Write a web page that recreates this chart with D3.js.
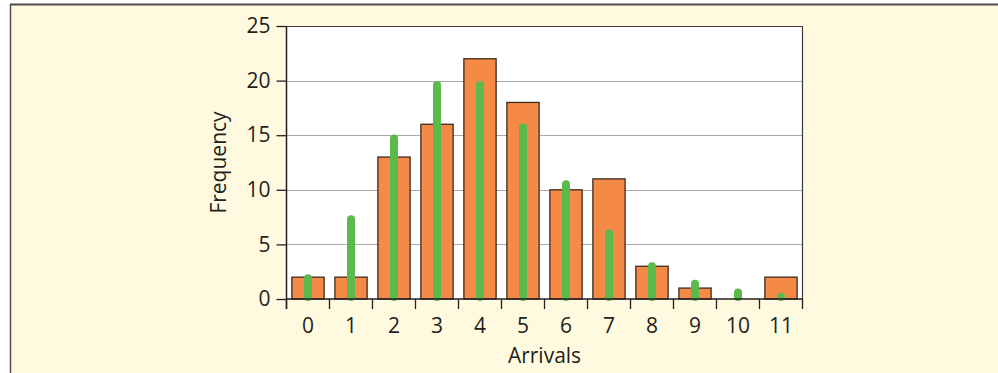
<!DOCTYPE html>
<html><head><meta charset="utf-8">
<script src="https://cdn.jsdelivr.net/npm/d3@7"></script>
<style>
html,body{margin:0;padding:0;background:#fff;}
svg{display:block;}
text{font-family:"Open Sans","Noto Sans",sans-serif;fill:#231f20;}
</style></head>
<body>
<script>
const categories = ["0","1","2","3","4","5","6","7","8","9","10","11"];
const observed = [2, 2, 13, 16, 22, 18, 10, 11, 3, 1, 0, 2];
const expected = [1.9, 7.3, 14.7, 19.6, 19.6, 15.7, 10.5, 6.0, 3.0, 1.4, 0.6, 0.2];
const yTicks = [0, 5, 10, 15, 20, 25];

const W = 998, H = 373;
const FS = 21;
const m = {left: 286.5, right: 802.5, top: 26, bottom: 299};

const svg = d3.select("body").append("svg").attr("width", W).attr("height", H);

svg.append("rect").attr("x", 0).attr("y", 0).attr("width", W).attr("height", H).attr("fill", "#fff");
svg.append("rect").attr("x", 10.5).attr("y", 4.5).attr("width", W).attr("height", H).attr("fill", "#fffadf");
svg.append("line").attr("x1", 10).attr("x2", W).attr("y1", 4.5).attr("y2", 4.5).attr("stroke", "#4d4d4d").attr("stroke-width", 2);
svg.append("line").attr("x1", 10.5).attr("x2", 10.5).attr("y1", 4).attr("y2", H).attr("stroke", "#4d4d4d").attr("stroke-width", 1.5);

const x = d3.scaleBand().domain(categories).range([m.left, m.right]).paddingInner(0.25).paddingOuter(0.125);
const y = d3.scaleLinear().domain([0, 25]).range([m.bottom, m.top]);

svg.append("rect").attr("x", m.left).attr("y", m.top).attr("width", m.right - m.left).attr("height", m.bottom - m.top).attr("fill", "#fff");

svg.append("g").selectAll("line").data(yTicks.filter(d => d > 0 && d < 25)).join("line")
  .attr("x1", m.left).attr("x2", m.right)
  .attr("y1", d => Math.round(y(d)) + 0.5).attr("y2", d => Math.round(y(d)) + 0.5)
  .attr("stroke", "#a7a9ac").attr("stroke-width", 1.2);

svg.append("line").attr("x1", m.left).attr("x2", m.right).attr("y1", m.top + 0.5).attr("y2", m.top + 0.5).attr("stroke", "#3c3c3c").attr("stroke-width", 1.2);
svg.append("line").attr("x1", m.right).attr("x2", m.right).attr("y1", m.top).attr("y2", m.bottom).attr("stroke", "#3c3c3c").attr("stroke-width", 1.2);

svg.append("g").selectAll("rect").data(observed).join("rect")
  .attr("x", (d, i) => x(categories[i]))
  .attr("width", x.bandwidth())
  .attr("y", d => y(d))
  .attr("height", d => y(0) - y(d))
  .attr("fill", "#f58a47")
  .attr("stroke", d => d > 0 ? "#3d2b1f" : "none")
  .attr("stroke-width", 1.3);

svg.append("g").selectAll("line").data(expected).join("line")
  .attr("x1", (d, i) => x(categories[i]) + x.bandwidth() / 2)
  .attr("x2", (d, i) => x(categories[i]) + x.bandwidth() / 2)
  .attr("y1", y(0) - 2)
  .attr("y2", d => Math.min(y(d), y(0) - 2))
  .attr("stroke", "#5cb94c").attr("stroke-width", 8).attr("stroke-linecap", "round");

const yAxis = d3.axisLeft(y).tickValues(yTicks).tickSize(10).tickPadding(6);
const gy = svg.append("g").attr("transform", `translate(${m.left},0)`).call(yAxis);
gy.attr("font-size", FS).attr("font-family", null);
gy.select(".domain").remove();
gy.append("line").attr("x1", 0).attr("x2", 0).attr("y1", m.top).attr("y2", m.bottom + 10).attr("stroke", "#231f20").attr("stroke-width", 1.5);
gy.selectAll(".tick line").attr("stroke", "#231f20").attr("stroke-width", 1.3);
gy.selectAll(".tick text").attr("fill", "#231f20");

const xAxis = d3.axisBottom(x).tickSize(0).tickPadding(19);
const gx = svg.append("g").attr("transform", `translate(0,${m.bottom})`).call(xAxis);
gx.attr("font-size", FS).attr("font-family", null);
gx.select(".domain").remove();
gx.append("line").attr("x1", m.left).attr("x2", m.right).attr("y1", 0).attr("y2", 0).attr("stroke", "#231f20").attr("stroke-width", 1.5);
gx.selectAll(".tick text").attr("fill", "#231f20");
const bounds = categories.map(c => x(c) - x.step() * x.paddingInner() / 2).concat([m.right]);
gx.append("g").selectAll("line").data(bounds).join("line")
  .attr("x1", d => d).attr("x2", d => d).attr("y1", 0).attr("y2", 10)
  .attr("stroke", "#231f20").attr("stroke-width", 1.3);

svg.append("text").attr("x", (m.left + m.right) / 2).attr("y", 363).attr("text-anchor", "middle").attr("font-size", FS).text("Arrivals");
svg.append("text").attr("transform", `translate(226,${(m.top + m.bottom) / 2}) rotate(-90)`).attr("text-anchor", "middle").attr("font-size", FS).text("Frequency");
</script>
</body></html>
